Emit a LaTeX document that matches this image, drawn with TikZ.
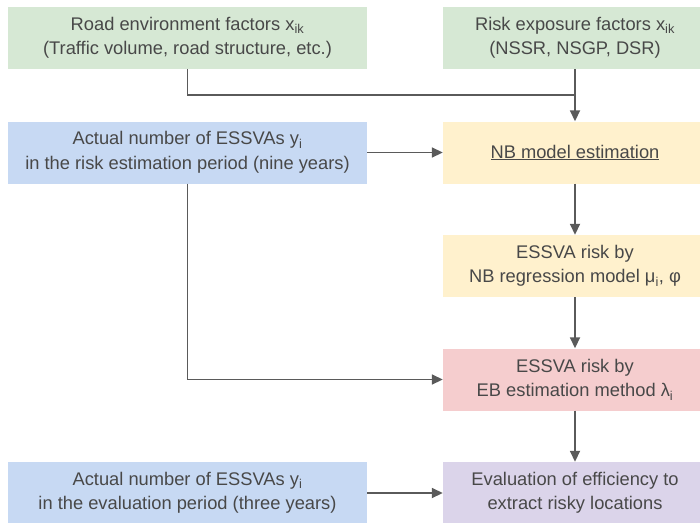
\documentclass[tikz,border=0pt]{standalone}
\usepackage{fontspec}
\setmainfont{Liberation Sans}
\usetikzlibrary{arrows.meta}
\definecolor{cgreen}{RGB}{214,232,212}
\definecolor{cblue}{RGB}{199,217,243}
\definecolor{cyellow}{RGB}{255,241,205}
\definecolor{cred}{RGB}{245,205,206}
\definecolor{cpurple}{RGB}{219,212,234}
\definecolor{txt}{RGB}{72,72,72}
\definecolor{ln}{RGB}{90,90,90}
\begin{document}
\begin{tikzpicture}[x=1pt,y=-1pt,
  box/.style={rectangle, inner sep=0pt, minimum height=62pt, text=txt, align=center,
    font=\fontsize{18.3}{24.5}\selectfont},
  lbox/.style={box, minimum width=359pt},
  rbox/.style={box, minimum width=264pt},
  conn/.style={draw=ln, line width=1.7pt},
  arr/.style={conn, -{Triangle[length=11pt,width=10pt]}}]
\useasboundingbox (0,0) rectangle (700,522);
\node[lbox, fill=cgreen] (lg) at (187.5,38) {Road environment factors x\textsubscript{ik}\\(Traffic volume, road structure, etc.)};
\node[rbox, fill=cgreen] (rg) at (575,38) {Risk exposure factors x\textsubscript{ik}\\(NSSR, NSGP, DSR)};
\node[lbox, fill=cblue] (b1) at (187.5,152.5) {Actual number of ESSVAs y\textsubscript{i}\\in the risk estimation period (nine years)};
\node[rbox, fill=cyellow] (nb) at (575,152.5) {\underline{NB model estimation}};
\node[rbox, fill=cyellow] (r2) at (575,266) {ESSVA risk by\\NB regression model μ\textsubscript{i}, φ};
\node[rbox, fill=cred] (red) at (575,379.5) {ESSVA risk by\\EB estimation method λ\textsubscript{i}};
\node[lbox, fill=cblue] (b2) at (187.5,493) {Actual number of ESSVAs y\textsubscript{i}\\in the evaluation period (three years)};
\node[rbox, fill=cpurple] (pur) at (575,493) {Evaluation of efficiency to\\extract risky locations};
\coordinate (j) at (575,95);
\draw[conn] (rg.south) -- (j);
\draw[conn] (lg.south) |- (j);
\draw[arr] (j) -- (nb.north);
\draw[arr] (b1.east) -- (nb.west);
\draw[arr] (nb) -- (r2);
\draw[arr] (r2) -- (red);
\draw[arr] (red) -- (pur);
\draw[arr] (b1.south) |- (red.west);
\draw[arr] (b2.east) -- (pur.west);
\end{tikzpicture}
\end{document}
